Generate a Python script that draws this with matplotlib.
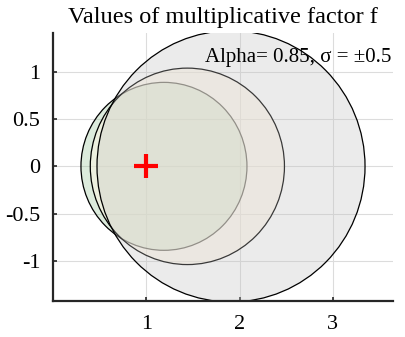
import matplotlib
matplotlib.use("Agg")
import matplotlib.pyplot as plt
from matplotlib.patches import Circle

# circle data (drawn smallest first so the bigger ones sit on top)
centers = [1.19, 1.441, 1.909]
radii = [0.89, 1.041, 1.437]
face_colors = ["#8ec08e", "#fff5e2", "#c0c0c0"]
face_alphas = [0.3, 0.5, 0.3]
ref_point = (1.0, 0.0)
title = "Values of multiplicative factor f"
note = "Alpha= 0.85, \u03c3 = \u00b10.5"
xticks = [1, 2, 3]
yticks = [-1, -0.5, 0, 0.5, 1]

plt.rcParams.update({
    "font.family": "Liberation Serif",
    "font.size": 16,
    "axes.unicode_minus": False,
})

fig = plt.figure(figsize=(4.06, 3.37), dpi=100)
ax = fig.add_axes([0.1305, 0.1077, 0.8375, 0.7943])

for c, r, fc, a in zip(centers, radii, face_colors, face_alphas):
    ax.add_patch(Circle((c, 0), r, facecolor=matplotlib.colors.to_rgba(fc, a),
                        edgecolor="black", linewidth=0.9, zorder=2))

ax.plot(*ref_point, marker="+", color="red", markersize=17, mew=3, zorder=3)

ax.text(1.63, 1.11, note, fontsize=15, zorder=4, clip_on=False)

ax.set_xlim(0, 3.646)
ax.set_ylim(-1.424, 1.413)
ax.set_xticks(xticks)
ax.set_yticks(yticks)
ax.set_yticklabels(["-1", "-0.5", "0", "0.5", "1"])
ax.tick_params(direction="in", length=3, width=1.2, color="#262626")
ax.tick_params(axis="x", pad=10)
ax.tick_params(axis="y", pad=9)
ax.grid(True, color="#dcdcdc", linewidth=0.8, zorder=0)
ax.set_axisbelow(True)
for s in ["top", "right"]:
    ax.spines[s].set_visible(False)
for s in ["left", "bottom"]:
    ax.spines[s].set_linewidth(1.6)
    ax.spines[s].set_color("#262626")

ax.set_title(title, fontsize=17.5, pad=7)

fig.savefig("out.png", dpi=100)
